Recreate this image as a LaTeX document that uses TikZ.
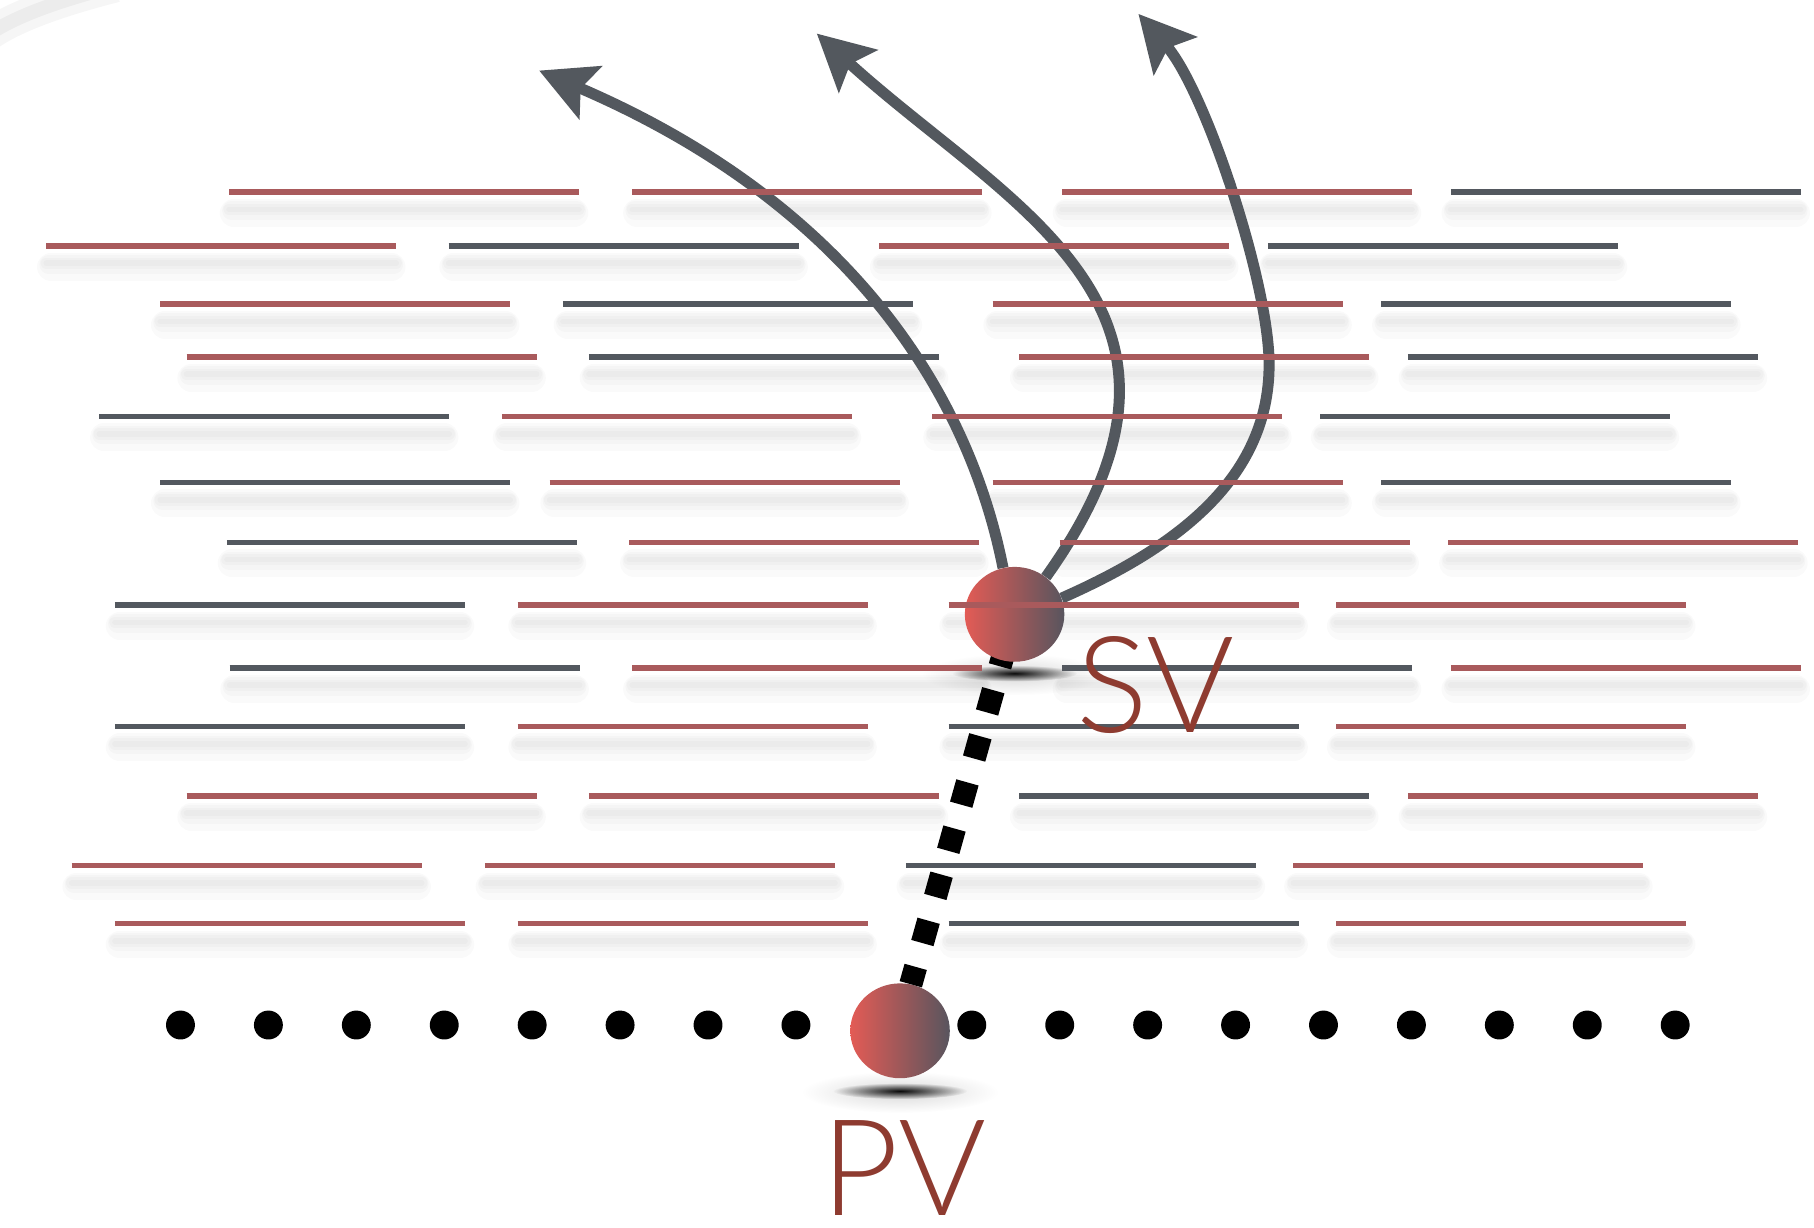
\documentclass[tikz,border=0pt]{standalone}
\usepackage{fontspec}
\newfontfamily\lightfont{Lato Light}
\usetikzlibrary{arrows.meta,shapes.geometric,fadings}
\definecolor{lred}{HTML}{A95A5C}
\definecolor{lgray}{HTML}{53585F}
\definecolor{arrgray}{HTML}{53585E}
\definecolor{ballred}{HTML}{E35B55}
\definecolor{ballgray}{HTML}{58555E}
\definecolor{txtcol}{HTML}{8E3B30}
\tikzfading[name=softfade, inner color=transparent!0, outer color=transparent!100]
\pgfdeclarelayer{back}
\pgfdeclarelayer{arrowl}
\pgfdeclarelayer{pvl}
\pgfdeclarelayer{dashl}
\pgfdeclarelayer{front}
\pgfsetlayers{back,arrowl,pvl,dashl,main,front}
\def\seglist{198/166/lred, 546.6/166/lred, 918/166/lred, 1254/166/lgray,
40/212.6/lred, 387.8/212.6/lgray, 760/212.6/lred, 1096/212.6/lgray,
138.5/262.8/lred, 486.6/262.8/lgray, 858/262.8/lred, 1194/262.8/lgray,
161.3/308.6/lred, 509.1/308.6/lgray, 881/308.6/lred, 1217/308.6/lgray,
85.8/360/lgray, 433.9/360/lred, 806/360/lred, 1141/360/lgray,
138.5/417/lgray, 475.1/417/lred, 858/417/lred, 1194/417/lgray,
196.2/468.7/lgray, 544/468.7/lred, 916/468.7/lred, 1252/468.7/lred,
99.4/523/lgray, 447.4/523/lred, 820/523/lred, 1155/523/lred,
198.5/577.4/lgray, 546.6/577.4/lred, 918/577.4/lgray, 1254/577.4/lred,
99.4/628/lgray, 447.4/628/lred, 820/628/lgray, 1155/628/lred,
161.3/688/lred, 509.1/688/lred, 881/688/lgray, 1217/688/lred,
62/748.2/lred, 419.2/748.2/lred, 783/748.2/lgray, 1118/748.2/lred,
99.4/798.4/lred, 447.4/798.4/lred, 820/798.4/lgray, 1155/798.4/lred}
\begin{document}
\begin{tikzpicture}[x=1pt,y=-1pt,
  seg/.style={line width=4.6pt},
  shd/.style={black, opacity=0.018, line cap=round},
  ball/.style={ellipse, minimum width=86pt, minimum height=82pt, inner sep=0pt,
    left color=ballred, right color=ballgray},
  flow/.style={arrgray, line width=9.5pt,
    -{Stealth[length=48pt,width=49pt,inset=9pt]}},
  vdash/.style={black, line width=20pt, dash pattern=on 20pt off 21.4pt, dash phase=4.4pt},
  lbl/.style={font=\lightfont\fontsize{116}{120}\selectfont, text=txtcol,
    inner sep=0pt, anchor=base},
  dot/.style={black}]
\useasboundingbox (0,0) rectangle (1568,1061);

% background: corner shadow and line shadows
\begin{pgfonlayer}{back}
  \fill[white] (0,0) rectangle (1568,1061);
  \draw[black, opacity=0.035, line width=28pt] (-10,30) .. controls (10,16) and (45,2) .. (100,-12);
  \draw[black, opacity=0.04, line width=12pt] (-10,30) .. controls (10,16) and (45,2) .. (100,-12);
  \foreach \sx/\sy/\sc in \seglist {
    \draw[shd, line width=24pt] (\sx+4,\sy+18) -- ++(294.5,0);
    \draw[shd, line width=16pt] (\sx+2,\sy+16) -- ++(298.5,0);
    \draw[shd, line width=10pt] (\sx,\sy+15) -- ++(302.5,0);
    \draw[shd, line width=5pt] (\sx,\sy+15) -- ++(302.5,0);
  }
\end{pgfonlayer}

% PV ball
\begin{pgfonlayer}{pvl}
  \fill[black, opacity=0.15, path fading=softfade] (778,944) ellipse (85 and 18);
  \fill[black, opacity=0.95, path fading=softfade] (778,943) ellipse (58 and 7);
  \node[ball] (pv) at (778,891) {};
\end{pgfonlayer}

% SV ball
\fill[black, opacity=0.15, path fading=softfade] (877,583) ellipse (80 and 18);
\fill[black, opacity=0.95, path fading=softfade] (877,582) ellipse (54 and 7);
\node[ball] (sv) at (877,531) {};

% arrow tips (free ends)
\coordinate (tipA) at (466,61);
\coordinate (tipB) at (706,29);
\coordinate (tipC) at (984,12);

\begin{pgfonlayer}{arrowl}
  \draw[flow] (sv.104) .. controls (835,330) and (725,172) .. (tipA);
  \draw[flow] (sv.50) .. controls (1071,265) and (872,180) .. (tipB);
  \draw[flow] (sv.19) .. controls (1015,474) and (1097,415) .. (1097,315)
                      .. controls (1097,245) and (1042,78) .. (tipC);
\end{pgfonlayer}

% dashed link PV -> SV
\begin{pgfonlayer}{dashl}
  \draw[vdash] (pv.77) -- (sv.center);
\end{pgfonlayer}

% front: lines, dots, labels
\begin{pgfonlayer}{front}
  \foreach \sx/\sy/\sc in \seglist {
    \draw[seg, \sc] (\sx,\sy) -- ++(302.5,0);
  }
  \foreach \k in {0,...,7,9,10,...,17} {
    \fill[dot] (156+76*\k,886) circle (12.5);
  }
  \node[lbl] (svlabel) at (998.7,633) {SV};
  \node[lbl] (pvlabel) at (781.5,1051) {PV};
\end{pgfonlayer}
\end{tikzpicture}
\end{document}
